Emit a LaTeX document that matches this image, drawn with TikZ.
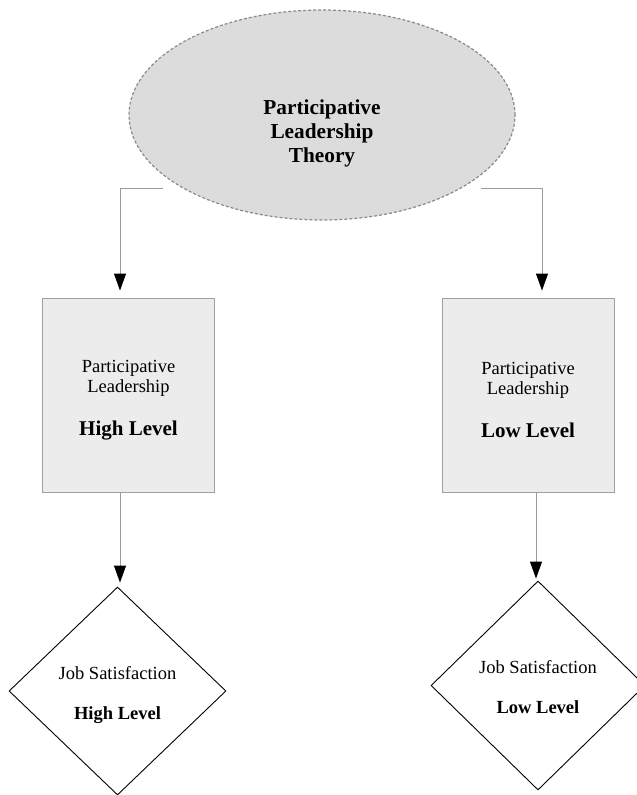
\documentclass[tikz,border=0pt]{standalone}
\usepackage{fontspec}
\setmainfont{Liberation Serif}
\usetikzlibrary{shapes.geometric,arrows.meta}
\definecolor{ellfill}{HTML}{DCDCDC}
\definecolor{ellline}{HTML}{8A8A8A}
\definecolor{boxfill}{HTML}{ECECEC}
\definecolor{boxline}{HTML}{A0A0A0}
\definecolor{connline}{HTML}{9A9A9A}
\tikzset{
  theoryell/.style={ellipse, draw=ellline, fill=ellfill, line width=1.2pt,
    dash pattern=on 3pt off 2pt, minimum width=386pt, minimum height=210pt, inner sep=0pt},
  levelbox/.style={rectangle, draw=boxline, fill=boxfill, line width=0.9pt,
    minimum width=172pt, minimum height=194pt, inner sep=0pt, align=center,
    font=\fontsize{18.5}{20.5}\selectfont},
  satdia/.style={diamond, draw=black, line width=0.9pt, inner sep=0pt, align=center,
    font=\fontsize{18.5}{20}\selectfont},
  conn/.style={draw=connline, line width=0.9pt,
    -{Triangle[length=17pt,width=12pt,fill=black,color=black]}},
  titletext/.style={align=center, font=\fontsize{21.3}{24}\selectfont\bfseries, inner sep=0pt},
}
\newcommand{\biglevel}[1]{{\fontsize{21}{24}\selectfont\bfseries #1}}
\newcommand{\toppad}[1]{\rule{0pt}{#1}}
\begin{document}
\begin{tikzpicture}[x=1pt,y=-1pt]
\useasboundingbox (0,0) rectangle (637,795);
% nodes
\node[theoryell] (theory) at (322,115) {};
\node[titletext] (theorytext) at (322,133.5) {Participative\\Leadership\\Theory};
\node[levelbox] (hbox) at (128.5,395)
  {\toppad{22pt}Participative\\Leadership\\[22pt]\biglevel{High Level}};
\node[levelbox] (lbox) at (528,395)
  {\toppad{22pt}Participative\\Leadership\\[22pt]\biglevel{Low Level}};
\node[satdia, minimum width=217pt, minimum height=208pt] (hdia) at (117.5,691)
  {\toppad{21pt}Job Satisfaction\\[20pt]\textbf{High Level}};
\node[satdia, minimum width=214pt, minimum height=209pt] (ldia) at (538,685.5)
  {\toppad{17pt}Job Satisfaction\\[20pt]\textbf{Low Level}};
% free ends of the top connectors
\coordinate (hstart) at (163,188);
\coordinate (lstart) at (481,188);
% connectors
\draw[conn, shorten >=7pt] (hstart) -| ([xshift=-8.5pt]hbox.north);
\draw[conn, shorten >=7pt] (lstart) -| ([xshift=14pt]lbox.north);
\draw[conn, shorten >=4pt] ([xshift=-8.5pt]hbox.south) -- ([xshift=-8.5pt]hbox.south |- hdia.north);
\draw[conn, shorten >=2pt] ([xshift=8pt]lbox.south) -- ([xshift=8pt]lbox.south |- ldia.north);
\end{tikzpicture}
\end{document}
